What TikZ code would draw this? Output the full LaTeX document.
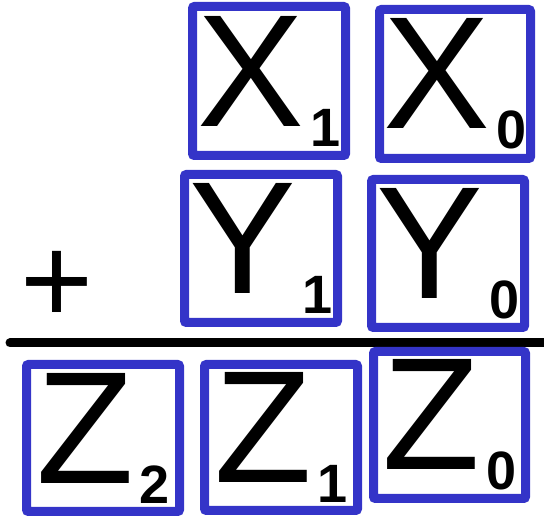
\documentclass[tikz,border=0pt]{standalone}
\usepackage{fontspec}
\setmainfont{Liberation Sans}
\definecolor{boxblue}{RGB}{52,52,200}
\newcommand\dsub[1]{\kern6pt{\fontsize{54}{54}\bfseries\selectfont\raisebox{-20pt}{#1}}}
\tikzset{
  cell/.style={draw=boxblue, line width=9pt, rounded corners=2pt, inner sep=0pt,
    font=\fontsize{160}{160}\selectfont, text=black},
  plussign/.style={inner sep=0pt, font=\fontsize{125}{125}\selectfont},
  rule/.style={line width=9pt, line cap=round, draw=black}
}
\begin{document}
\begin{tikzpicture}[x=1pt,y=-1pt]
\useasboundingbox (0,0) rectangle (544,518);
% first row
\node[cell, minimum width=153pt, minimum height=149pt] (x1) at (269,81) {X\dsub{1}};
\node[cell, minimum width=151pt, minimum height=149pt] (x0) at (455,84) {X\dsub{0}};
% second row
\node[cell, minimum width=153pt, minimum height=148pt] (y1) at (261,248.5) {Y\dsub{1}};
\node[cell, minimum width=153pt, minimum height=148pt] (y0) at (448,253.5) {Y\dsub{0}};
\node[plussign] (plus) at (57,287) {+};
% rule
\coordinate (l1) at (10,343);
\coordinate (l2) at (548,343);
\draw[rule] (l1) -- (l2);
% result row
\node[cell, minimum width=153pt, minimum height=147pt] (z2) at (103,438) {Z\dsub{2}};
\node[cell, minimum width=153pt, minimum height=146pt] (z1) at (281,437.5) {Z\dsub{1}};
\node[cell, minimum width=152pt, minimum height=147pt] (z0) at (449.5,425) {Z\dsub{0}};
\end{tikzpicture}
\end{document}
